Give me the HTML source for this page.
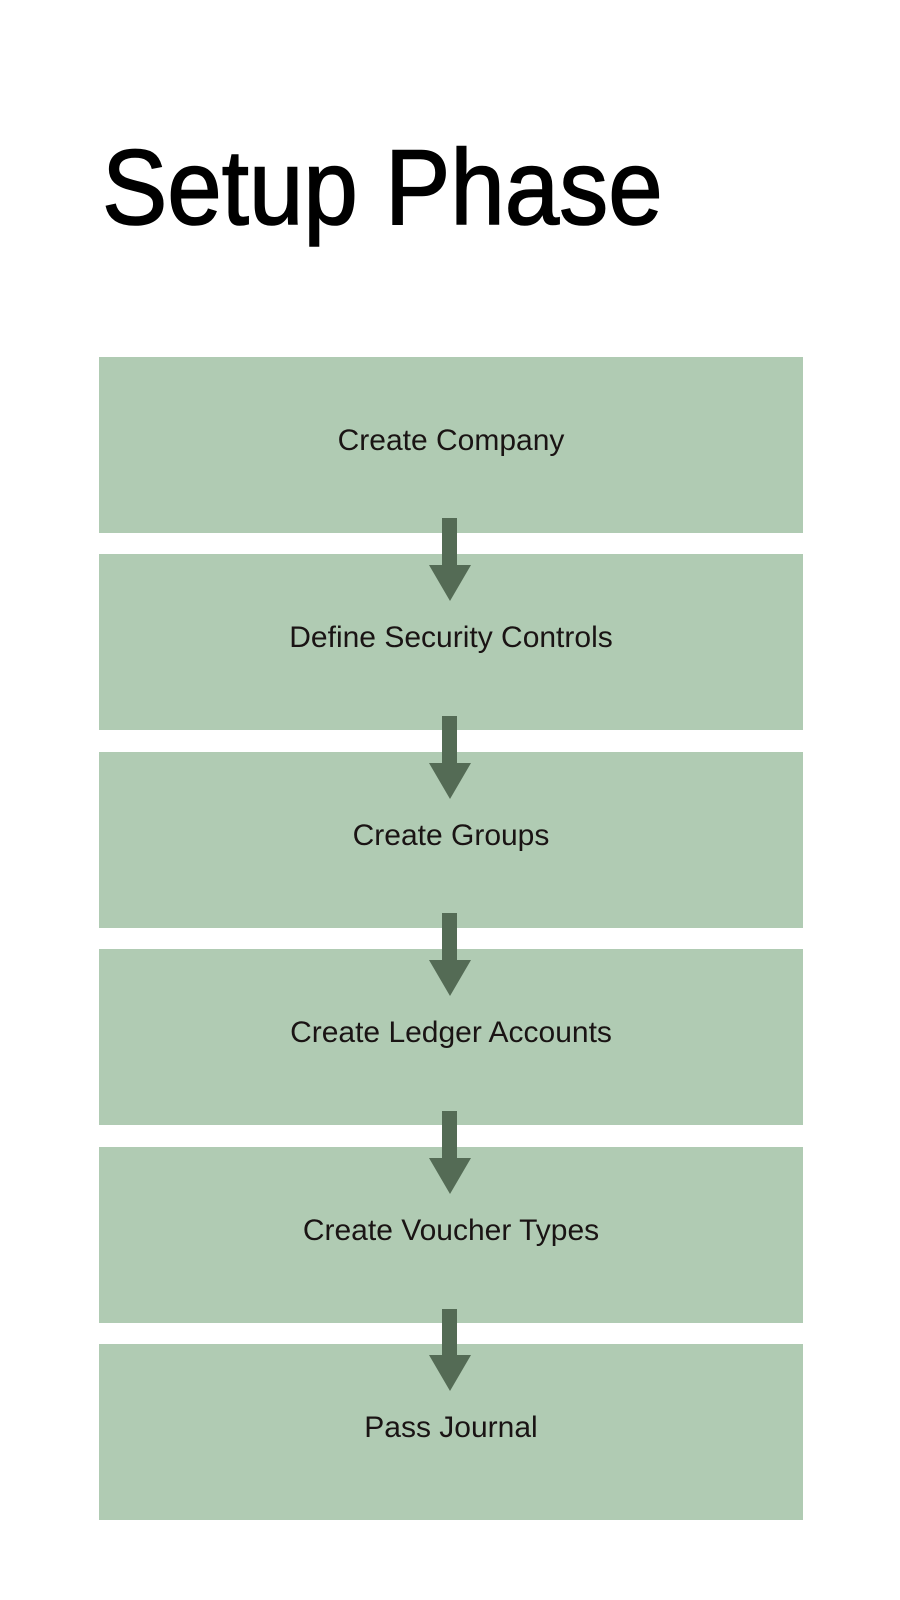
<!DOCTYPE html>
<html><head><style>
html,body{margin:0;padding:0;background:#fff;width:900px;height:1600px;overflow:hidden;position:relative;font-family:"Liberation Sans",sans-serif;}
.t{position:absolute;left:102px;top:134px;font-size:107px;line-height:1;color:#000;transform:scaleX(0.915);transform-origin:left top;white-space:nowrap;-webkit-text-stroke:1.6px #000;}
.b{position:absolute;left:99px;width:704px;height:176px;background:#b0cbb3;display:flex;align-items:center;justify-content:center;font-size:30px;color:#1a1414;padding-bottom:8px;box-sizing:border-box;}
svg{position:absolute;left:0;top:0;}
</style></head><body>
<div class="t">Setup Phase</div>
<div class="b" style="top:357px">Create Company</div>
<div class="b" style="top:554px">Define Security Controls</div>
<div class="b" style="top:752px">Create Groups</div>
<div class="b" style="top:949px">Create Ledger Accounts</div>
<div class="b" style="top:1147px">Create Voucher Types</div>
<div class="b" style="top:1344px">Pass Journal</div>
<svg width="900" height="1600">
<g fill="#546b55">
<path d="M442 518h15v47h14l-21 36l-21-36h13z"/>
<path d="M442 716h15v47h14l-21 36l-21-36h13z"/>
<path d="M442 913h15v47h14l-21 36l-21-36h13z"/>
<path d="M442 1111h15v47h14l-21 36l-21-36h13z"/>
<path d="M442 1309h15v46h14l-21 36l-21-36h13z"/>
</g>
</svg>
</body></html>
